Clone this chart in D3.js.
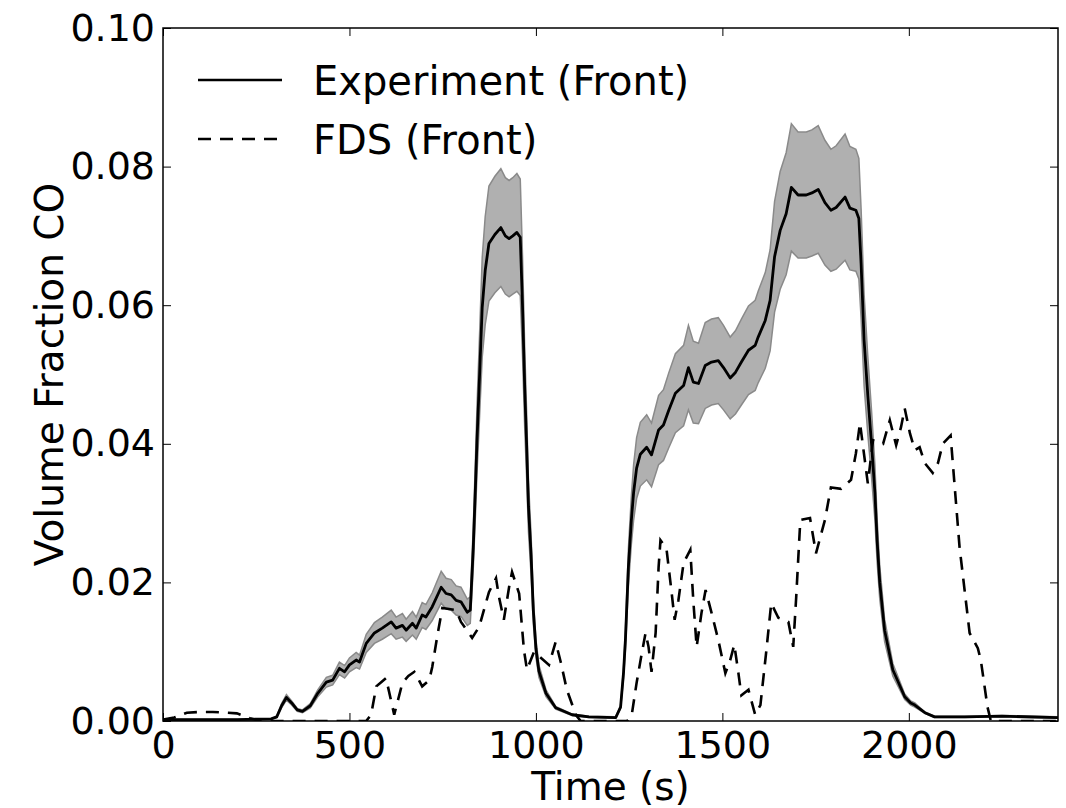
<!DOCTYPE html>
<html>
<head>
<meta charset="utf-8">
<script src="https://cdn.jsdelivr.net/npm/d3@7"></script>
<style>
  body { margin: 0; background: #fff; }
  text { font-family: "DejaVu Sans", sans-serif; }
</style>
</head>
<body>
<div id="chart"></div>
<script>
// experiment (front), time in s
const expTime = [0, 100, 200, 290, 305, 318, 331, 345, 360, 374, 395, 415, 438, 455, 473, 487, 500, 518, 527, 545,
  567, 588, 612, 625, 642, 652, 669, 679, 695, 705, 722, 746, 759, 773, 786, 799, 816, 824, 832, 838,
  842, 849, 856, 864, 874, 890, 906, 918, 928, 938, 949, 958, 964, 970, 975, 980, 987, 993, 1000, 1008,
  1027, 1053, 1097, 1142, 1214, 1227, 1235, 1240, 1248, 1256, 1262, 1270, 1280, 1297, 1310, 1329, 1342, 1356, 1374, 1396,
  1409, 1422, 1436, 1454, 1471, 1489, 1503, 1521, 1535, 1551, 1570, 1588, 1596, 1615, 1628, 1640, 1655, 1671, 1685, 1703,
  1725, 1740, 1757, 1775, 1791, 1805, 1829, 1842, 1858, 1866, 1872, 1880, 1890, 1900, 1909, 1915, 1922, 1935, 1957, 1989,
  2005, 2016, 2043, 2069, 2150, 2250, 2400];
const expMean = [.0002, .0002, .0002, .0003, .0006, .0022, .0034, .0026, .0016, .0014, .0022, .0040, .0056, .0059, .0076, .0071, .0081, .0088, .0085, .0112,
  .0127, .0134, .0143, .0134, .0138, .0131, .0141, .0134, .0153, .0150, .0165, .0193, .0184, .0182, .0174, .0172, .0157, .0160, .0250, .0340,
  .0405, .0500, .0597, .0650, .0689, .0702, .0712, .0700, .0696, .0700, .0705, .0698, .0600, .0480, .0400, .0310, .0240, .0160, .0105, .0072,
  .0040, .0019, .0009, .0006, .0005, .0020, .0070, .0117, .0222, .0290, .0330, .0365, .0385, .0395, .0384, .0420, .0427, .0448, .0473, .0484,
  .0510, .0489, .0487, .0513, .0518, .0520, .0510, .0495, .0503, .0518, .0535, .0542, .0554, .0578, .0607, .0670, .0708, .0732, .0770, .0759,
  .0759, .0762, .0767, .0748, .0737, .0741, .0756, .0740, .0737, .0725, .0660, .0550, .0470, .0400, .0330, .0260, .0200, .0131, .0074, .0035,
  .0026, .0023, .0012, .0006, .0006, .0007, .0005];
const expUpper = [.0002, .0002, .0002, .0003, .0007, .0025, .0038, .0029, .0018, .0016, .0025, .0045, .0063, .0066, .0085, .0080, .0091, .0099, .0095, .0125,
  .0142, .0150, .0160, .0150, .0155, .0147, .0158, .0150, .0171, .0168, .0185, .0216, .0206, .0204, .0195, .0193, .0176, .0179, .0280, .0381,
  .0454, .0560, .0669, .0728, .0772, .0786, .0797, .0784, .0780, .0784, .0790, .0782, .0672, .0538, .0448, .0347, .0269, .0179, .0118, .0081,
  .0045, .0021, .0010, .0007, .0006, .0022, .0078, .0131, .0249, .0325, .0370, .0409, .0431, .0442, .0430, .0470, .0478, .0502, .0530, .0542,
  .0571, .0548, .0545, .0575, .0580, .0582, .0571, .0554, .0563, .0580, .0599, .0607, .0620, .0647, .0680, .0750, .0793, .0820, .0862, .0850,
  .0850, .0853, .0859, .0838, .0825, .0830, .0847, .0829, .0825, .0812, .0739, .0616, .0526, .0448, .0370, .0291, .0224, .0147, .0083, .0039,
  .0029, .0026, .0013, .0007, .0007, .0008, .0006];
const expLower = [.0002, .0002, .0002, .0003, .0005, .0019, .0030, .0023, .0014, .0012, .0019, .0035, .0049, .0052, .0067, .0062, .0071, .0077, .0075, .0099,
  .0112, .0118, .0126, .0118, .0121, .0115, .0124, .0118, .0135, .0132, .0145, .0170, .0162, .0160, .0153, .0151, .0138, .0141, .0220, .0299,
  .0356, .0440, .0525, .0572, .0606, .0618, .0627, .0616, .0612, .0616, .0620, .0614, .0528, .0422, .0352, .0273, .0211, .0141, .0092, .0063,
  .0035, .0017, .0008, .0005, .0004, .0018, .0062, .0103, .0195, .0255, .0290, .0321, .0339, .0348, .0338, .0370, .0376, .0394, .0416, .0426,
  .0449, .0430, .0429, .0451, .0456, .0458, .0449, .0436, .0443, .0456, .0471, .0477, .0488, .0509, .0534, .0590, .0623, .0644, .0678, .0668,
  .0668, .0671, .0675, .0658, .0649, .0652, .0665, .0651, .0649, .0638, .0581, .0484, .0414, .0352, .0290, .0229, .0176, .0115, .0065, .0031,
  .0023, .0020, .0011, .0005, .0005, .0006, .0004];

// FDS (front)
const fdsTime = [0, 30, 64, 100, 134, 170, 198, 233, 260, 545, 558, 572, 585, 598, 620, 642, 658, 674, 695, 714,
  722, 735, 749, 786, 799, 829, 848, 874, 893, 901, 914, 928, 936, 955, 968, 976, 995, 1035, 1053, 1067,
  1083, 1107, 1120, 1245, 1257, 1270, 1284, 1294, 1302, 1310, 1321, 1329, 1334, 1350, 1364, 1372, 1382, 1396, 1414, 1422,
  1431, 1444, 1455, 1471, 1489, 1508, 1521, 1532, 1543, 1551, 1570, 1588, 1602, 1618, 1631, 1650, 1677, 1690, 1698, 1709,
  1735, 1751, 1775, 1791, 1818, 1845, 1858, 1869, 1890, 1904, 1931, 1949, 1966, 1979, 1989, 2003, 2016, 2029, 2043, 2064,
  2078, 2091, 2112, 2136, 2163, 2185, 2193, 2211, 2220, 2400];
const fdsValue = [.0002, .0005, .0012, .0013, .0013, .0012, .0011, .0004, 0, 0, .0009, .0050, .0056, .0062, .0009, .0055, .0065, .0071, .0050, .0059,
  .0078, .0121, .0163, .0160, .0143, .0120, .0136, .0186, .0206, .0179, .0146, .0193, .0215, .0184, .0102, .0074, .0100, .0081, .0114, .0084,
  .0045, .0009, 0, 0, .0009, .0055, .0098, .0127, .0107, .0071, .0127, .0222, .0261, .0249, .0185, .0146, .0174, .0228, .0247, .0174,
  .0107, .0156, .0189, .0156, .0117, .0069, .0088, .0110, .0069, .0037, .0045, .0009, .0023, .0102, .0170, .0149, .0143, .0107, .0179, .0290,
  .0293, .0242, .0290, .0337, .0335, .0348, .0386, .0430, .0343, .0405, .0400, .0434, .0398, .0424, .0451, .0415, .0391, .0395, .0372, .0358,
  .0372, .0400, .0412, .0251, .0127, .0105, .0088, .0020, 0, 0];

const xTicks = [0, 500, 1000, 1500, 2000];
const yTicks = [0, 0.02, 0.04, 0.06, 0.08, 0.10];
const seriesNames = ['Experiment (Front)', 'FDS (Front)'];

const W = 1066, H = 808;
const margin = {top: 28, right: 8, bottom: 87, left: 163};
const width = W - margin.left - margin.right;
const height = H - margin.top - margin.bottom;

const svg = d3.select('#chart').append('svg')
    .attr('width', W)
    .attr('height', H)
    .style('background', '#fff');

const g = svg.append('g')
    .attr('transform', 'translate(' + margin.left + ',' + margin.top + ')');

const xScale = d3.scaleLinear().domain([0, 2400]).range([0, width]);
const yScale = d3.scaleLinear().domain([0, 0.1]).range([height, 0]);

g.append('clipPath').attr('id', 'clip')
  .append('rect').attr('width', width).attr('height', height);

const plot = g.append('g').attr('clip-path', 'url(#clip)');

const expData = expTime.map((t, i) => ({t, m: expMean[i], hi: expUpper[i], lo: expLower[i]}));
const fdsData = fdsTime.map((t, i) => ({t, v: fdsValue[i]}));

// uncertainty band
plot.append('path')
    .datum(expData)
    .attr('fill', '#b0b0b0')
    .attr('d', d3.area().x(d => xScale(d.t)).y0(d => yScale(d.lo)).y1(d => yScale(d.hi)));

['hi', 'lo'].forEach(k => {
  plot.append('path')
      .datum(expData)
      .attr('fill', 'none')
      .attr('stroke', '#8a8a8a')
      .attr('stroke-width', 1.5)
      .attr('d', d3.line().x(d => xScale(d.t)).y(d => yScale(d[k])));
});

plot.append('path')
    .datum(fdsData)
    .attr('fill', 'none')
    .attr('stroke', '#000')
    .attr('stroke-width', 2.6)
    .attr('stroke-dasharray', '13,9')
    .attr('d', d3.line().x(d => xScale(d.t)).y(d => yScale(d.v)));

plot.append('path')
    .datum(expData)
    .attr('fill', 'none')
    .attr('stroke', '#000')
    .attr('stroke-width', 2.8)
    .attr('stroke-linejoin', 'round')
    .attr('d', d3.line().x(d => xScale(d.t)).y(d => yScale(d.m)));

// axes, ticks pointing inward
const fontSize = 38;
g.append('g')
    .attr('transform', 'translate(0,' + height + ')')
    .call(d3.axisBottom(xScale).tickValues(xTicks).tickSize(-8).tickPadding(10).tickFormat(d3.format('d')));
g.append('g')
    .call(d3.axisLeft(yScale).tickValues(yTicks).tickSize(-8).tickPadding(8).tickFormat(d3.format('.2f')));
g.append('g')
    .call(d3.axisTop(xScale).tickValues(xTicks).tickSize(-8).tickFormat(''));
g.append('g')
    .attr('transform', 'translate(' + width + ',0)')
    .call(d3.axisRight(yScale).tickValues(yTicks).tickSize(-8).tickFormat(''));

g.selectAll('.domain').remove();
g.selectAll('.tick line').attr('stroke', '#000').attr('stroke-width', 1);
g.selectAll('.tick text')
    .attr('fill', '#000')
    .style('font-size', fontSize + 'px')
    .style('font-family', '"DejaVu Sans", sans-serif');

g.append('rect')
    .attr('width', width)
    .attr('height', height)
    .attr('fill', 'none')
    .attr('stroke', '#000')
    .attr('stroke-width', 1.5);

// axis titles
svg.append('text')
    .attr('x', margin.left + width / 2)
    .attr('y', 800)
    .attr('text-anchor', 'middle')
    .style('font-size', '39px')
    .text('Time (s)');

svg.append('text')
    .attr('transform', 'translate(63,' + (margin.top + height / 2) + ') rotate(-90)')
    .attr('text-anchor', 'middle')
    .style('font-size', '39px')
    .text('Volume Fraction CO');

// legend
const legend = svg.append('g');
seriesNames.forEach((name, i) => {
  const yy = 80 + i * 59;
  legend.append('line')
      .attr('x1', 198).attr('x2', 282)
      .attr('y1', yy).attr('y2', yy)
      .attr('stroke', '#000')
      .attr('stroke-width', 2.6)
      .attr('stroke-dasharray', i === 1 ? '13,9' : null);
  legend.append('text')
      .attr('x', 313)
      .attr('y', yy + 15)
      .style('font-size', '40px')
      .text(name);
});
</script>
</body>
</html>
